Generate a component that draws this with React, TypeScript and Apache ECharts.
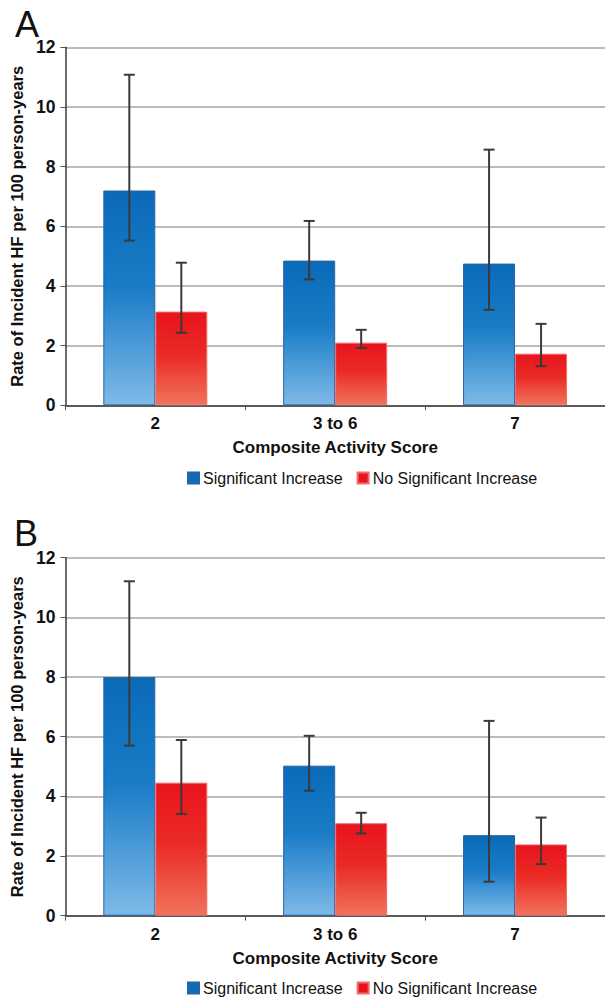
import React, { useEffect, useRef } from "react";
import * as echarts from "echarts";

const categories = ["2", "3 to 6", "7"];
const seriesNames = ["Significant Increase", "No Significant Increase"];
const yTicks = { min: 0, max: 12, interval: 2 };

// Panel A
const aSig = [7.2, 4.85, 4.75];
const aSigLow = [5.52, 4.22, 3.2];
const aSigHigh = [11.08, 6.18, 8.57];
const aNo = [3.14, 2.1, 1.73];
const aNoLow = [2.43, 1.92, 1.31];
const aNoHigh = [4.78, 2.53, 2.73];

// Panel B
const bSig = [8.0, 5.03, 2.7];
const bSigLow = [5.7, 4.19, 1.14];
const bSigHigh = [11.21, 6.03, 6.53];
const bNo = [4.46, 3.1, 2.39];
const bNoLow = [3.41, 2.76, 1.73];
const bNoHigh = [5.89, 3.45, 3.29];

const FONT = "'Liberation Sans', Arial, Helvetica, sans-serif";
const BAR_W = 52;
const CAP = 5.5;

const blueGrad = () =>
  new echarts.graphic.LinearGradient(0, 0, 0, 1, [
    { offset: 0, color: "#0a6ab8" },
    { offset: 0.45, color: "#1a7cc7" },
    { offset: 1, color: "#7ebae8" },
  ]);
const redGrad = () =>
  new echarts.graphic.LinearGradient(0, 0, 0, 1, [
    { offset: 0, color: "#e8141d" },
    { offset: 0.45, color: "#ea2a24" },
    { offset: 1, color: "#f0735c" },
  ]);

function errSeries(name: string, idx: number, low: number[], high: number[], dir: number) {
  return {
    type: "custom",
    name,
    xAxisIndex: idx,
    yAxisIndex: idx,
    z: 10,
    data: low.map((l, i) => [i, l, high[i]]),
    encode: { x: 0, y: [1, 2] },
    renderItem: (params: any, api: any) => {
      const c = api.value(0);
      const pHigh = api.coord([c, api.value(2)]);
      const pLow = api.coord([c, api.value(1)]);
      const x = pHigh[0] + (dir * BAR_W) / 2;
      const style = { stroke: "#3a3a3a", lineWidth: 2 };
      return {
        type: "group",
        children: [
          { type: "line", shape: { x1: x, y1: pHigh[1], x2: x, y2: pLow[1] }, style },
          { type: "line", shape: { x1: x - CAP, y1: pHigh[1], x2: x + CAP, y2: pHigh[1] }, style },
          { type: "line", shape: { x1: x - CAP, y1: pLow[1], x2: x + CAP, y2: pLow[1] }, style },
        ],
      };
    },
  };
}

function barSeries(name: string, idx: number, data: number[], blue: boolean) {
  return {
    type: "bar",
    name,
    xAxisIndex: idx,
    yAxisIndex: idx,
    barWidth: BAR_W,
    barGap: "0%",
    data,
    itemStyle: {
      color: blue ? blueGrad() : redGrad(),
      borderColor: blue ? "#2a64a4" : "#f26a6a",
      borderWidth: 1,
    },
  };
}

const gridTops = [47.3, 557.7];
const GRID_H = 358;

export default function App() {
  const ref = useRef<HTMLDivElement>(null);
  useEffect(() => {
    if (!ref.current) return;
    const chart = echarts.init(ref.current, null, { renderer: "svg" });
    const xAxis = [0, 1].map((i) => ({
      type: "category",
      gridIndex: i,
      data: categories,
      name: "Composite Activity Score",
      nameLocation: "middle",
      nameGap: 34,
      nameTextStyle: { fontFamily: FONT, fontSize: 17, fontWeight: "bold", color: "#111" },
      axisLine: { lineStyle: { color: "#3a3a3a", width: 1.5 } },
      axisTick: { show: true, length: 5, lineStyle: { color: "#555", width: 1 } },
      axisLabel: { margin: 10, fontFamily: FONT, fontSize: 17, fontWeight: "bold", color: "#111" },
    }));
    const yAxis = [0, 1].map((i) => ({
      type: "value",
      gridIndex: i,
      min: yTicks.min,
      max: yTicks.max,
      interval: yTicks.interval,
      name: "Rate of Incident HF per 100 person-years",
      nameLocation: "middle",
      nameGap: 36,
      nameTextStyle: { fontFamily: FONT, fontSize: 16.5, fontWeight: "bold", color: "#111" },
      axisLine: { show: true, lineStyle: { color: "#3a3a3a", width: 1.5 } },
      axisTick: { show: true, length: 5, lineStyle: { color: "#555", width: 1 } },
      axisLabel: { margin: 10, fontFamily: FONT, fontSize: 17.5, fontWeight: "bold", color: "#111" },
      splitLine: { show: true, lineStyle: { color: "#a6a6a6", width: 1.6 } },
    }));
    const legendItems = [
      { name: seriesNames[0], itemStyle: { color: "#0b6cb9" } },
      { name: seriesNames[1], itemStyle: { color: "#e8141d" } },
    ];
    const legend = [470, 980].map((top) => ({
      left: 187,
      top,
      padding: 0,
      icon: "rect",
      itemWidth: 11,
      itemHeight: 11,
      itemGap: 14,
      selectedMode: false,
      data: legendItems,
      textStyle: { fontFamily: FONT, fontSize: 16, color: "#111", padding: [0, 0, 0, -1] },
    }));
    chart.setOption({
      animation: false,
      backgroundColor: "#ffffff",
      grid: gridTops.map((top) => ({ left: 63, right: -9, top, height: GRID_H, containLabel: false })),
      xAxis,
      yAxis,
      legend,
      graphic: [
        { type: "text", left: 15, top: 6, style: { text: "A", font: `normal 36px ${FONT}`, fill: "#111" } },
        { type: "text", left: 14, top: 515, style: { text: "B", font: `normal 36px ${FONT}`, fill: "#111" } },
      ],
      series: [
        barSeries(seriesNames[0], 0, aSig, true),
        barSeries(seriesNames[1], 0, aNo, false),
        barSeries(seriesNames[0], 1, bSig, true),
        barSeries(seriesNames[1], 1, bNo, false),
        errSeries("errASig", 0, aSigLow, aSigHigh, -1),
        errSeries("errANo", 0, aNoLow, aNoHigh, 1),
        errSeries("errBSig", 1, bSigLow, bSigHigh, -1),
        errSeries("errBNo", 1, bNoLow, bNoHigh, 1),
      ],
    });
    return () => chart.dispose();
  }, []);
  return (
    <div
      ref={ref}
      style={{ position: "absolute", left: 0, top: 0, width: 605, height: 999, background: "#fff" }}
    />
  );
}
